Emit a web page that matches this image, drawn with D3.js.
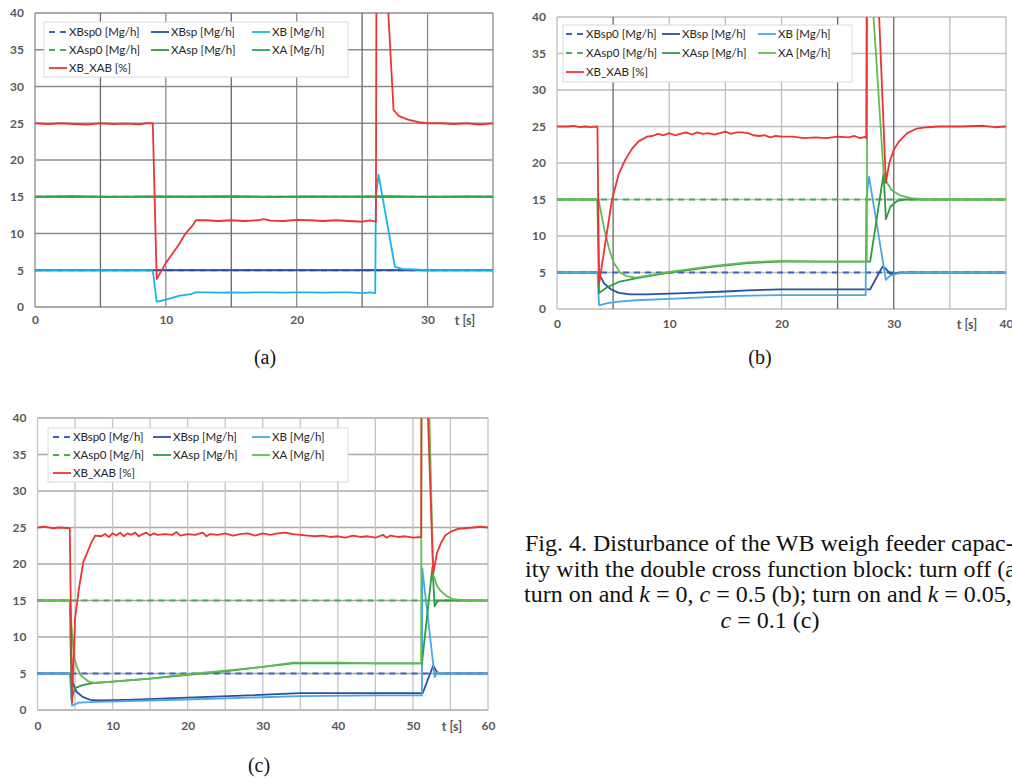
<!DOCTYPE html>
<html>
<head>
<meta charset="utf-8">
<script src="https://cdn.jsdelivr.net/npm/d3@7"></script>
<style>
body { margin: 0; background: #fff; }
svg { display: block; }
</style>
</head>
<body>
<script>
// ---- panel (a): turn off ----
var aXBsp0 = [[0, 5], [35, 5]];
var aXBsp = [[0, 5], [35, 5]];
var aXB = [[0, 5], [9.0, 5], [9.3, 0.7], [10, 1.0], [11, 1.5], [12, 1.8], [12.3, 2.0], [13, 2.0], [14, 1.95], [15, 2.0], [16, 1.95],
  [17, 2.0], [18, 2.0], [19, 1.95], [20, 2.0], [21, 2.0], [22, 1.95], [23, 2.0], [24, 2.0], [25, 1.9], [25.6, 2.0], [26.0, 1.9],
  [26.05, 15], [26.25, 18.0], [27.5, 5.5], [28, 5.2], [29, 5.1], [30, 5.0], [35, 5.0]];
var aXAsp0 = [[0, 15], [35, 15]];
var aXAsp = [[0, 15], [35, 15]];
var aXA = [[0, 15], [3, 15.08], [6, 14.95], [9, 15.05], [12, 15], [15, 15.08], [18, 14.95], [21, 15.05], [24, 15], [27, 15.08],
  [30, 14.95], [33, 15.05], [35, 15]];
var aXAB = [[0, 25], [1, 24.9], [2, 25.0], [3, 24.9], [4, 24.8], [5, 25.0], [6, 24.9], [7, 24.95], [8, 24.85], [8.5, 25.0], [9.0, 25.0],
  [9.3, 3.8], [10, 6.0], [11, 8.5], [11.5, 10.0], [12, 11.0], [12.3, 11.8], [13, 11.8], [14, 11.7], [15, 11.8], [16, 11.7], [17, 11.8],
  [17.5, 11.95], [18, 11.75], [19, 11.7], [20, 11.85], [21, 11.8], [22, 11.7], [23, 11.8], [24, 11.7], [25, 11.6], [25.6, 11.8],
  [26.05, 11.6], [26.1, 50], [26.75, 50], [27.0, 40], [27.4, 26.8], [27.8, 26.0], [28.5, 25.5], [29.5, 25.1], [30, 25], [31, 25.0],
  [32, 24.9], [33, 25], [34, 24.8], [35, 25]];

// ---- panel (b): k = 0, c = 0.5 ----
var bXBsp0 = [[0, 5], [40, 5]];
var bXBsp = [[0, 5], [3.6, 5], [3.75, 4.8], [4.2, 3.5], [4.8, 2.7], [5.5, 2.2], [6.5, 2.0], [8, 2.0], [12, 2.2], [15, 2.4], [17, 2.55],
  [20, 2.7], [24, 2.7], [27.9, 2.7], [29.0, 5.8], [29.3, 5.5], [29.7, 4.8], [30.3, 4.9], [31, 5], [40, 5]];
var bXB = [[0, 5], [3.6, 5], [3.75, 0.5], [4.5, 0.8], [5.5, 1.0], [7, 1.2], [10, 1.4], [13, 1.6], [16, 1.8], [20, 1.9], [24, 1.9],
  [27.5, 1.9], [27.55, 15], [27.8, 18.1], [29.3, 4.0], [29.7, 4.6], [30.5, 4.9], [32, 5], [40, 5]];
var bXAsp0 = [[0, 15], [40, 15]];
var bXAsp = [[0, 15], [3.6, 15], [3.75, 2.2], [4.5, 3.0], [5.5, 3.7], [7, 4.2], [10, 5.0], [12, 5.4], [14, 5.8], [17, 6.3], [20, 6.5],
  [24, 6.5], [27.9, 6.5], [29.1, 18.6], [29.3, 12.3], [29.7, 14.0], [30.3, 14.8], [31, 15], [40, 15]];
var bXA = [[0, 15], [3.6, 15], [3.7, 15], [4.2, 11], [4.6, 8.5], [5.0, 6.5], [5.6, 5.0], [6.2, 4.5], [7, 4.3], [10, 5.1], [12, 5.5],
  [14, 5.9], [17, 6.4], [20, 6.6], [24, 6.5], [27.6, 6.5], [27.65, 50], [27.9, 50], [28.2, 40], [29.1, 18.6], [29.4, 17.3],
  [29.8, 16.3], [30.5, 15.6], [31.5, 15.2], [33, 15.0], [40, 15]];
var bXAB = [[0, 25], [1, 25], [1.5, 25.1], [2, 24.9], [2.5, 25.0], [3, 24.9], [3.6, 25], [3.75, 3.5], [4.9, 15], [5.5, 18.5], [6.1, 20.5],
  [6.7, 22], [7.3, 23], [8, 23.6], [8.5, 23.7], [9, 24.0], [9.5, 23.8], [10, 24.1], [10.5, 23.8], [11, 24.0], [11.5, 24.2], [12, 23.9],
  [12.5, 24.2], [13, 24.0], [13.5, 24.1], [14, 23.9], [14.5, 24.1], [15, 24.3], [15.5, 24.0], [16, 24.2], [16.5, 24.2], [17, 24.1],
  [17.5, 23.8], [18, 23.7], [18.5, 23.8], [19, 23.5], [19.5, 23.7], [20, 23.6], [21, 23.6], [22, 23.4], [23, 23.5], [24, 23.4],
  [25, 23.6], [26, 23.5], [26.5, 23.7], [27, 23.4], [27.5, 23.6], [27.55, 23.4], [27.6, 50], [28.45, 50], [28.7, 40], [29.3, 17.3],
  [29.6, 20], [30, 21.8], [30.5, 23], [31.2, 24.1], [32, 24.7], [33, 24.9], [34, 25], [36, 25], [38, 25.1], [39, 24.9], [40, 25]];

// ---- panel (c): k = 0.05, c = 0.1 ----
var cXBsp0 = [[0, 5], [60, 5]];
var cXBsp = [[0, 5], [4.3, 5], [4.6, 4.0], [5.2, 2.5], [6.0, 1.8], [7, 1.4], [8, 1.3], [12, 1.4], [20, 1.7], [28, 2.0], [35, 2.3],
  [45, 2.3], [51.3, 2.3], [52.7, 6.1], [53.2, 5.2], [53.6, 5.0], [60, 5]];
var cXB = [[0, 5], [4.3, 5], [4.6, 0.6], [5.5, 1.0], [8, 1.1], [15, 1.3], [25, 1.6], [35, 1.9], [45, 2.0], [51.2, 2.0], [51.25, 19.4],
  [52.9, 4.5], [53.3, 5.2], [53.7, 4.9], [54.5, 5], [60, 5]];
var cXAsp0 = [[0, 15], [60, 15]];
var cXAsp = [[0, 15], [4.3, 15], [4.55, 1.5], [5.0, 3.0], [6, 3.4], [7.5, 3.7], [10, 3.9], [15, 4.3], [20, 4.8], [25, 5.3], [30, 5.9],
  [34, 6.4], [40, 6.4], [45, 6.4], [51.2, 6.4], [52.6, 19.6], [52.9, 14.2], [53.2, 14.8], [53.6, 15], [60, 15]];
var cXA = [[0, 15], [4.3, 15], [4.6, 10.5], [4.9, 7.1], [5.3, 5.8], [5.7, 4.8], [6.8, 3.9], [7.5, 3.7], [10, 3.9], [15, 4.3], [20, 4.9],
  [25, 5.4], [30, 5.9], [34, 6.5], [40, 6.5], [45, 6.4], [51.1, 6.4], [51.15, 50], [51.9, 50], [52.2, 40], [52.7, 18.6], [53.2, 17.0],
  [53.7, 16.3], [54.5, 15.6], [55.3, 15.2], [57, 15.0], [60, 15]];
var cXAB = [[0, 25], [1, 25.1], [2, 24.9], [3, 25.0], [4.3, 24.9], [4.6, 1.0], [5.0, 12.5], [5.5, 16.5], [6.1, 20.3], [6.6, 21.5],
  [7.2, 23], [7.7, 23.9], [8.5, 23.8], [9, 24.1], [9.5, 23.7], [10, 24.2], [10.5, 23.9], [11, 24.3], [11.5, 23.8], [12, 24.2],
  [12.5, 24.0], [13, 24.3], [13.5, 23.8], [14, 24.1], [14.5, 24.3], [15, 23.9], [15.5, 24.2], [16, 24.0], [17, 24.1], [18, 24.0],
  [18.5, 24.4], [19, 23.9], [20, 24.1], [21, 24.0], [22, 24.3], [22.5, 23.8], [23, 24.1], [24, 24.0], [25, 24.2], [26, 23.9],
  [27, 24.1], [28, 24.2], [29, 23.9], [30, 24.2], [31, 24.0], [32, 24.2], [33, 24.3], [34, 24.1], [35, 24.0], [36, 23.9], [37, 23.8],
  [38, 23.9], [39, 23.7], [40, 23.8], [41, 23.6], [42, 23.9], [43, 23.7], [44, 23.8], [45, 23.6], [46, 24.0], [46.5, 23.6], [47, 23.9],
  [48, 23.7], [49, 23.8], [50, 23.6], [51.1, 23.7], [51.15, 50], [51.75, 50], [52.0, 40], [52.7, 18.7], [53.2, 21.5], [53.7, 22.8],
  [54.3, 23.9], [55, 24.4], [56, 24.8], [57, 24.9], [58, 25], [59, 25.1], [60, 25]];

var legendNames = ["XBsp0 [Mg/h]", "XBsp [Mg/h]", "XB [Mg/h]", "XAsp0 [Mg/h]", "XAsp [Mg/h]", "XA [Mg/h]", "XB_XAB [%]"];
var yTicks = [0, 5, 10, 15, 20, 25, 30, 35, 40];
var captionLines = ["Fig. 4. Disturbance of the WB weigh feeder capac-",
  "ity with the double cross function block: turn off (a);"];

var width = 1012, height = 778;

var svg = d3.select("body").append("svg")
  .attr("width", width)
  .attr("height", height);

var colBlue0 = "#3b62c4", colBlue = "#2c4ea2", colGreen0 = "#46ae4e", colGreenSp = "#2f9b42", colRed = "#ed3434";
var sansFont = "Lato, 'Open Sans', sans-serif";

var panels = [
  { id: "a", left: 35, right: 493, top: 13, bottom: 307, xmax: 35, xticks: [0, 10, 20, 30], tx: 465, tpad: 8,
    grid: "#8c8c8c", gridDark: [5, 15, 25], label: "(a)", lx: 265, ly: 364, cyan: "#1ab2ec", xaCol: "#2ea84a",
    legend: { x: 44, y: 22, w: 304, h: 55, rows: [10, 28, 46], cols: [5, 107, 208] },
    series: [aXBsp0, aXBsp, aXB, aXAsp0, aXAsp, aXA, aXAB] },
  { id: "b", left: 557, right: 1006, top: 17, bottom: 309, xmax: 40, xticks: [0, 10, 20, 30, 40], tx: 967, tpad: 10,
    grid: "#bdbdbd", gridDark: [5, 25, 30], label: "(b)", lx: 760, ly: 364, cyan: "#4aa8e0", xaCol: "#62bd50",
    legend: { x: 563, y: 25, w: 289, h: 57, rows: [9, 28, 47], cols: [3, 99, 195] },
    series: [bXBsp0, bXBsp, bXB, bXAsp0, bXAsp, bXA, bXAB] },
  { id: "c", left: 37.5, right: 488, top: 418, bottom: 710, xmax: 60, xticks: [0, 10, 20, 30, 40, 50, 60], tx: 452, tpad: 11,
    grid: "#c4c4c4", gridDark: [], label: "(c)", lx: 259, ly: 772, cyan: "#4aa8e0", xaCol: "#62bd50",
    legend: { x: 48, y: 428, w: 300, h: 54, rows: [9, 27, 45], cols: [5, 105, 204] },
    series: [cXBsp0, cXBsp, cXB, cXAsp0, cXAsp, cXA, cXAB] }
];

panels.forEach(drawPanel);

function drawPanel(p) {
  var x = d3.scaleLinear().domain([0, p.xmax]).range([p.left, p.right]);
  var y = d3.scaleLinear().domain([0, 40]).range([p.bottom, p.top]);
  var g = svg.append("g").attr("class", "panel-" + p.id);

  // gridlines
  g.selectAll(".hgrid").data(yTicks).enter().append("line")
    .attr("x1", p.left).attr("x2", p.right)
    .attr("y1", function(d) { return y(d); }).attr("y2", function(d) { return y(d); })
    .attr("stroke", p.id == "c" ? "#a8a8a8" : p.grid)
    .attr("stroke-width", 1.3);
  g.selectAll(".vgrid").data(d3.range(0, p.xmax + 0.1, 5)).enter().append("line")
    .attr("x1", function(d) { return x(d); }).attr("x2", function(d) { return x(d); })
    .attr("y1", p.top).attr("y2", p.bottom)
    .attr("stroke", function(d) { return p.gridDark.indexOf(d) >= 0 ? "#6a6a6a" : p.grid; })
    .attr("stroke-width", 1.3);

  // axes (labels only)
  var ya = g.append("g").attr("transform", "translate(" + p.left + ",0)")
    .call(d3.axisLeft(y).tickValues(yTicks).tickSize(0).tickPadding(11));
  var xa = g.append("g").attr("transform", "translate(0," + p.bottom + ")")
    .call(d3.axisBottom(x).tickValues(p.xticks).tickSize(0).tickPadding(p.tpad));
  [ya, xa].forEach(function(a) {
    a.select(".domain").remove();
    a.selectAll("text")
      .style("font-family", sansFont)
      .style("font-size", "12px")
      .style("font-weight", "bold")
      .attr("fill", "#595959");
  });
  g.append("text")
    .attr("x", p.tx).attr("y", p.bottom + p.tpad + 10)
    .attr("text-anchor", "middle")
    .style("font-family", sansFont)
    .style("font-size", "12.5px")
    .style("font-weight", "bold")
    .attr("fill", "#595959")
    .text("t [s]");

  // series
  var styles = [
    { color: colBlue0, dash: "6,5" },
    { color: colBlue },
    { color: p.cyan },
    { color: colGreen0, dash: "6,5" },
    { color: colGreenSp },
    { color: p.xaCol },
    { color: colRed }
  ];

  svg.append("clipPath").attr("id", "clip-" + p.id)
    .append("rect")
    .attr("x", p.left - 2).attr("y", p.top)
    .attr("width", p.right - p.left + 4).attr("height", p.bottom - p.top + 2);

  var line = d3.line()
    .x(function(d) { return x(d[0]); })
    .y(function(d) { return y(d[1]); });

  var lines = g.append("g").attr("clip-path", "url(#clip-" + p.id + ")");
  p.series.forEach(function(s, i) {
    lines.append("path")
      .attr("d", line(s))
      .attr("fill", "none")
      .attr("stroke", styles[i].color)
      .attr("stroke-width", 1.8)
      .attr("stroke-linejoin", "round")
      .attr("stroke-dasharray", styles[i].dash || null);
  });

  // legend
  var L = p.legend;
  var lg = g.append("g").attr("transform", "translate(" + L.x + "," + L.y + ")");
  lg.append("rect")
    .attr("width", L.w).attr("height", L.h)
    .attr("fill", "#fff")
    .attr("stroke", "#d9d9d9");
  legendNames.forEach(function(name, i) {
    var r = Math.floor(i / 3), c = i % 3;
    var lx = L.cols[c], ly = L.rows[r];
    lg.append("line")
      .attr("x1", lx).attr("x2", lx + 18)
      .attr("y1", ly).attr("y2", ly)
      .attr("stroke", styles[i].color)
      .attr("stroke-width", 1.8)
      .attr("stroke-dasharray", styles[i].dash || null);
    lg.append("text")
      .attr("x", lx + 20).attr("y", ly)
      .attr("dy", "0.35em")
      .style("font-family", sansFont)
      .style("font-size", "11.5px")
      .attr("fill", "#262626")
      .text(name);
  });

  // sub caption
  svg.append("text")
    .attr("x", p.lx).attr("y", p.ly)
    .attr("text-anchor", "middle")
    .style("font-family", "'Liberation Serif', 'Times New Roman', serif")
    .style("font-size", "20px")
    .attr("fill", "#111")
    .text(p.label);
}

// figure caption
var cap = svg.append("g")
  .style("font-family", "'Liberation Serif', 'Times New Roman', serif")
  .style("font-size", "24px")
  .attr("fill", "#111");

captionLines.forEach(function(t, i) {
  cap.append("text").attr("x", 525).attr("y", 551 + i * 25.7).text(t);
});

var l3 = cap.append("text").attr("x", 524).attr("y", 551 + 2 * 25.7);
l3.append("tspan").text("turn on and ");
l3.append("tspan").style("font-style", "italic").text("k");
l3.append("tspan").text(" = 0, ");
l3.append("tspan").style("font-style", "italic").text("c");
l3.append("tspan").text(" = 0.5 (b); turn on and ");
l3.append("tspan").style("font-style", "italic").text("k");
l3.append("tspan").text(" = 0.05,");

var l4 = cap.append("text").attr("x", 770).attr("y", 551 + 3 * 25.7).attr("text-anchor", "middle");
l4.append("tspan").style("font-style", "italic").text("c");
l4.append("tspan").text(" = 0.1 (c)");
</script>
</body>
</html>
